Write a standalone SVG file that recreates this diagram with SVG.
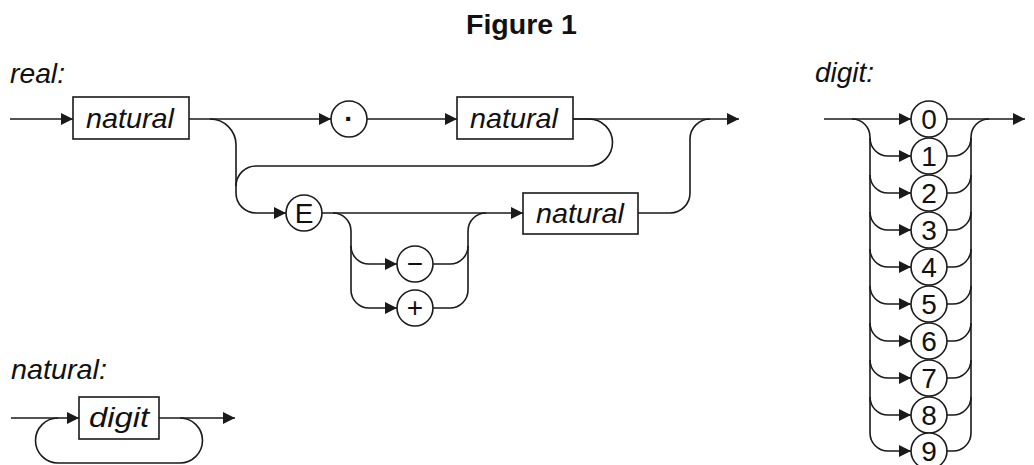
<svg xmlns="http://www.w3.org/2000/svg" width="1034" height="465" viewBox="0 0 1034 465">
<style>
.bg{fill:#ffffff}
.ln{fill:none;stroke:#1a1a1a;stroke-width:1.6}
.box{fill:#ffffff;stroke:#1a1a1a;stroke-width:1.6}
.term{fill:#ffffff;stroke:#1a1a1a;stroke-width:1.6}
.lbl{font-family:"Liberation Sans",Arial,sans-serif;font-style:italic;font-size:28px;fill:#111}
.nt{font-family:"Liberation Sans",Arial,sans-serif;font-style:italic;font-size:28px;fill:#111;text-anchor:middle}
.tt{font-family:"Liberation Sans",Arial,sans-serif;font-size:28px;fill:#111;text-anchor:middle}
.title{font-family:"Liberation Sans",Arial,sans-serif;font-weight:bold;font-size:28px;fill:#111}
</style>
<defs>
<marker id="ah" markerUnits="userSpaceOnUse" markerWidth="12" markerHeight="12" refX="12" refY="6" orient="auto">
<path d="M0,0 L12,6 L0,12 z" fill="#1a1a1a"/>
</marker>
</defs>
<rect class="bg" x="0" y="0" width="1034" height="465"/>
<text class="title" x="466" y="34" textLength="111" lengthAdjust="spacingAndGlyphs">Figure 1</text>
<text class="lbl" x="10" y="83" textLength="55" lengthAdjust="spacingAndGlyphs">real:</text>
<text class="lbl" x="11" y="379" textLength="96" lengthAdjust="spacingAndGlyphs">natural:</text>
<text class="lbl" x="815" y="82" textLength="59" lengthAdjust="spacingAndGlyphs">digit:</text>

<g id="connectors">
<!-- real -->
<path class="ln" d="M10,119 H73" marker-end="url(#ah)"/>
<path class="ln" d="M189,119 H331" marker-end="url(#ah)"/>
<path class="ln" d="M367,119 H457" marker-end="url(#ah)"/>
<path class="ln" d="M573,119 H739" marker-end="url(#ah)"/>
<path class="ln" d="M573,119 H589 A23.5,23.5 0 0 1 589,166 H256 A20,20 0 0 0 236,186"/>
<path class="ln" d="M210,119 A26,26 0 0 1 236,145 V193 A20,20 0 0 0 256,213 H286" marker-end="url(#ah)"/>
<path class="ln" d="M322,213 H523" marker-end="url(#ah)"/>
<path class="ln" d="M333,213 A18,18 0 0 1 351,231 V246 A18,18 0 0 0 369,264 H397" marker-end="url(#ah)"/>
<path class="ln" d="M351,246 V290 A18,18 0 0 0 369,308 H397" marker-end="url(#ah)"/>
<path class="ln" d="M433,264 H450 A18,18 0 0 0 468,246 V231 A18,18 0 0 1 486,213"/>
<path class="ln" d="M433,308 H450 A18,18 0 0 0 468,290 V246"/>
<path class="ln" d="M638,213 H670 A20,20 0 0 0 690,193 V139 A20,20 0 0 1 710,119"/>
<!-- natural -->
<path class="ln" d="M11,418 H79" marker-end="url(#ah)"/>
<path class="ln" d="M159,418 H235" marker-end="url(#ah)"/>
<path class="ln" d="M180,418 A22.5,22.5 0 0 1 180,463 H58 A22.5,22.5 0 0 1 58,418"/>
<!-- digit -->
<path class="ln" d="M824,119 H911" marker-end="url(#ah)"/>
<path class="ln" d="M947,119 H1025" marker-end="url(#ah)"/>
<path class="ln" d="M852,119 A18,18 0 0 1 870,137 V433 A18,18 0 0 0 888,451 H911" marker-end="url(#ah)"/>
<path class="ln" d="M870,138 A18,18 0 0 0 888,156 H911" marker-end="url(#ah)"/>
<path class="ln" d="M870,175 A18,18 0 0 0 888,193 H911" marker-end="url(#ah)"/>
<path class="ln" d="M870,212 A18,18 0 0 0 888,230 H911" marker-end="url(#ah)"/>
<path class="ln" d="M870,249 A18,18 0 0 0 888,267 H911" marker-end="url(#ah)"/>
<path class="ln" d="M870,286 A18,18 0 0 0 888,304 H911" marker-end="url(#ah)"/>
<path class="ln" d="M870,323 A18,18 0 0 0 888,341 H911" marker-end="url(#ah)"/>
<path class="ln" d="M870,360 A18,18 0 0 0 888,378 H911" marker-end="url(#ah)"/>
<path class="ln" d="M870,397 A18,18 0 0 0 888,415 H911" marker-end="url(#ah)"/>
<path class="ln" d="M947,451 H953 A18,18 0 0 0 971,433 V137 A18,18 0 0 1 989,119"/>
<path class="ln" d="M947,156 H953 A18,18 0 0 0 971,138"/>
<path class="ln" d="M947,193 H953 A18,18 0 0 0 971,175"/>
<path class="ln" d="M947,230 H953 A18,18 0 0 0 971,212"/>
<path class="ln" d="M947,267 H953 A18,18 0 0 0 971,249"/>
<path class="ln" d="M947,304 H953 A18,18 0 0 0 971,286"/>
<path class="ln" d="M947,341 H953 A18,18 0 0 0 971,323"/>
<path class="ln" d="M947,378 H953 A18,18 0 0 0 971,360"/>
<path class="ln" d="M947,415 H953 A18,18 0 0 0 971,397"/>
</g>

<g id="real-natural1"><rect class="box" x="73" y="97" width="116" height="42"/><text class="nt" x="130" y="128" textLength="88" lengthAdjust="spacingAndGlyphs">natural</text></g>
<g id="real-dot"><circle class="term" cx="349" cy="119" r="18"/><text class="tt" x="349" y="128" font-weight="bold">·</text></g>
<g id="real-natural2"><rect class="box" x="457" y="97" width="116" height="42"/><text class="nt" x="514" y="128" textLength="88" lengthAdjust="spacingAndGlyphs">natural</text></g>
<g id="real-E"><circle class="term" cx="304" cy="213" r="18"/><text class="tt" x="304" y="223">E</text></g>
<g id="real-minus"><circle class="term" cx="415" cy="264" r="18"/><text class="tt" x="415" y="273">−</text></g>
<g id="real-plus"><circle class="term" cx="415" cy="308" r="18"/><text class="tt" x="415" y="317">+</text></g>
<g id="real-natural3"><rect class="box" x="523" y="193" width="115" height="41"/><text class="nt" x="580" y="223" textLength="88" lengthAdjust="spacingAndGlyphs">natural</text></g>

<g id="natural-digit"><rect class="box" x="79" y="397" width="80" height="42"/><text class="nt" x="119" y="427" textLength="60" lengthAdjust="spacingAndGlyphs">digit</text></g>

<g id="digit-0"><circle class="term" cx="929" cy="119" r="18"/><text class="tt" x="929" y="129">0</text></g>
<g id="digit-1"><circle class="term" cx="929" cy="156" r="18"/><text class="tt" x="929" y="166">1</text></g>
<g id="digit-2"><circle class="term" cx="929" cy="193" r="18"/><text class="tt" x="929" y="203">2</text></g>
<g id="digit-3"><circle class="term" cx="929" cy="230" r="18"/><text class="tt" x="929" y="240">3</text></g>
<g id="digit-4"><circle class="term" cx="929" cy="267" r="18"/><text class="tt" x="929" y="277">4</text></g>
<g id="digit-5"><circle class="term" cx="929" cy="304" r="18"/><text class="tt" x="929" y="314">5</text></g>
<g id="digit-6"><circle class="term" cx="929" cy="341" r="18"/><text class="tt" x="929" y="351">6</text></g>
<g id="digit-7"><circle class="term" cx="929" cy="378" r="18"/><text class="tt" x="929" y="388">7</text></g>
<g id="digit-8"><circle class="term" cx="929" cy="415" r="18"/><text class="tt" x="929" y="425">8</text></g>
<g id="digit-9"><circle class="term" cx="929" cy="451" r="18"/><text class="tt" x="929" y="461">9</text></g>
</svg>
